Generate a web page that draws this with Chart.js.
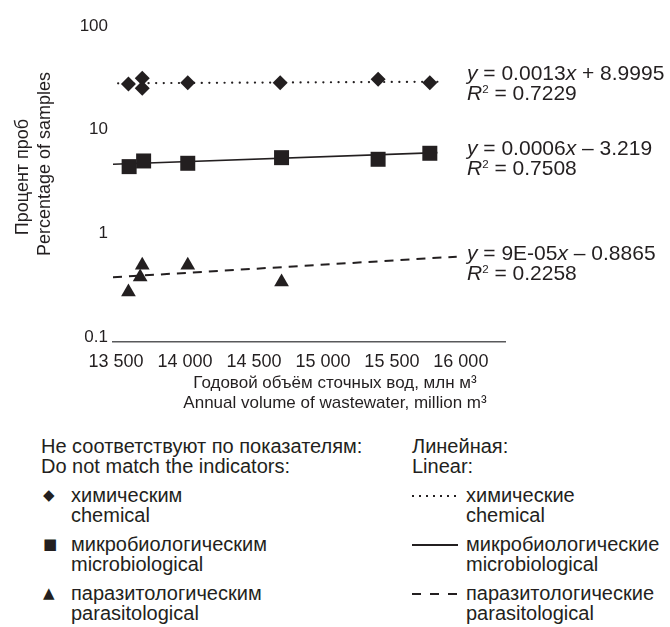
<!DOCTYPE html>
<html>
<head>
<meta charset="utf-8">
<script src="https://cdn.jsdelivr.net/npm/chart.js@4"></script>
<style>
  body { margin: 0; background: #fff; color: #231f20; font-family: "Liberation Sans", Arial, sans-serif; }
  #wrap { position: relative; width: 670px; height: 627px; overflow: hidden; }
  #chart { position: absolute; left: 0; top: 0; }
  .ytitle { position: absolute; font-size: 18px; white-space: nowrap; transform: translate(-50%, -50%) rotate(-90deg); }
  .xtitle { position: absolute; left: 335px; font-size: 17px; line-height: 20px; white-space: nowrap; transform: translateX(-50%); }
  .eq { position: absolute; left: 467px; font-size: 21px; line-height: 20px; white-space: nowrap; }
  .eq sup { font-size: 0.55em; vertical-align: 0.6em; line-height: 0; }
  .leg { position: absolute; font-size: 20px; line-height: 20px; white-space: nowrap; }
  .row { position: absolute; left: 0; }
  .txt { position: absolute; }
  .mk { position: absolute; font-family: "DejaVu Sans", sans-serif; font-size: 15px; line-height: 20px; }
  .ln { position: absolute; height: 2px; top: 10px; width: 46px; }
  .dot { background: repeating-linear-gradient(to right, #231f20 0 2px, transparent 2px 7px); }
  .solid { background: #231f20; height: 1.5px; }
  .dash { background: repeating-linear-gradient(to right, #231f20 0 9px, transparent 9px 18px); }
</style>
</head>
<body>
<div id="wrap">
  <canvas id="chart" width="670" height="430"></canvas>
  <div class="ytitle" style="left:22px; top:177px">Процент проб</div>
  <div class="ytitle" style="left:44px; top:164px">Percentage of samples</div>
  <div class="xtitle" style="top:373px">Годовой объём сточных вод, млн м³</div>
  <div class="xtitle" style="top:393px">Annual volume of wastewater, million m³</div>

  <div class="eq" style="top:63px"><i>y</i> = 0.0013<i>x</i> + 8.9995<br><i>R</i><sup>2</sup> = 0.7229</div>
  <div class="eq" style="top:138px"><i>y</i> = 0.0006<i>x</i> – 3.219<br><i>R</i><sup>2</sup> = 0.7508</div>
  <div class="eq" style="top:243px"><i>y</i> = 9E-05<i>x</i> – 0.8865<br><i>R</i><sup>2</sup> = 0.2258</div>

  <div class="leg" style="left:41px; top:436px; width:360px; height:191px">
    <div class="row" style="top:0"><div class="txt" style="left:0">Не соответствуют по показателям:<br>Do not match the indicators:</div></div>
    <div class="row" style="top:49px"><span class="mk" style="left:2px">◆</span><div class="txt" style="left:30px">химическим<br>chemical</div></div>
    <div class="row" style="top:98px"><span class="mk" style="left:2px">■</span><div class="txt" style="left:30px">микробиологическим<br>microbiological</div></div>
    <div class="row" style="top:147px"><span class="mk" style="left:2px">▲</span><div class="txt" style="left:30px">паразитологическим<br>parasitological</div></div>
  </div>

  <div class="leg" style="left:412px; top:436px; width:258px; height:191px">
    <div class="row" style="top:0"><div class="txt" style="left:0">Линейная:<br>Linear:</div></div>
    <div class="row" style="top:49px"><span class="ln dot" style="left:0"></span><div class="txt" style="left:54px">химические<br>chemical</div></div>
    <div class="row" style="top:98px"><span class="ln solid" style="left:0"></span><div class="txt" style="left:54px">микробиологические<br>microbiological</div></div>
    <div class="row" style="top:147px"><span class="ln dash" style="left:0"></span><div class="txt" style="left:54px">паразитологические<br>parasitological</div></div>
  </div>
</div>

<script>
// Годовой объём сточных вод (млн м3) и процент проб
const chemX = [13590, 13690, 13690, 14020, 14690, 15400, 15775];
const chemY = [27.6, 31.3, 25.1, 28.4, 28.4, 30.6, 28.4];
const microX = [13595, 13700, 14020, 14700, 15400, 15775];
const microY = [4.40, 4.99, 4.74, 5.37, 5.18, 5.92];
const paraX = [13590, 13690, 13675, 14020, 14700];
const paraY = [0.272, 0.492, 0.380, 0.492, 0.340];

// линии тренда (концы)
const chemTrendX = [13460, 15830];
const chemTrendY = [28.0, 29.0];
const microTrendX = [13455, 15830];
const microTrendY = [4.63, 6.0];
const paraTrendX = [13478, 15970];
const paraTrendY = [0.377, 0.596];

const xTicks = [13500, 14000, 14500, 15000, 15500, 16000];
const xTickLabels = ['13 500', '14 000', '14 500', '15 000', '15 500', '16 000'];
const yTicks = [0.1, 1, 10, 100];
const yTickLabels = ['0.1', '1', '10', '100'];

const ink = '#231f20';

function toPoints(xs, ys) {
    return xs.map((x, i) => ({ x: x, y: ys[i] }));
}

function markers(xs, ys, style, radius) {
    return {
        data: toPoints(xs, ys),
        pointStyle: style,
        pointRadius: radius,
        backgroundColor: ink,
        borderColor: ink,
        borderWidth: 0,
        showLine: false
    };
}

function trend(xs, ys, dash, width) {
    return {
        data: toPoints(xs, ys),
        showLine: true,
        pointRadius: 0,
        borderColor: ink,
        borderWidth: width,
        borderDash: dash,
        borderCapStyle: dash.length && dash[0] < 1 ? 'round' : 'butt',
        fill: false
    };
}

new Chart(document.getElementById('chart'), {
    type: 'scatter',
    data: {
        datasets: [
            markers(chemX, chemY, 'rectRot', 7.5),
            markers(microX, microY, 'rect', 10.6),
            markers(paraX, paraY, 'triangle', 8.5),
            trend(chemTrendX, chemTrendY, [0.1, 7.5], 2.2),
            trend(microTrendX, microTrendY, [], 1.6),
            trend(paraTrendX, paraTrendY, [9, 7], 2)
        ]
    },
    options: {
        responsive: false,
        animation: false,
        layout: { padding: { top: 26, right: 165, left: 0, bottom: 0 } },
        plugins: {
            legend: { display: false },
            tooltip: { enabled: false }
        },
        scales: {
            x: {
                type: 'linear',
                min: 13478,
                max: 16320,
                afterBuildTicks: scale => { scale.ticks = xTicks.map(v => ({ value: v })); },
                afterFit: scale => { scale.height = 88; },
                grid: { display: false, drawTicks: false },
                border: { display: true, color: '#58595b', width: 1.5 },
                ticks: {
                    padding: 9,
                    color: ink,
                    font: { family: 'Liberation Sans', size: 18 },
                    maxRotation: 0,
                    autoSkip: false,
                    callback: (value, index) => xTickLabels[index]
                }
            },
            y: {
                type: 'logarithmic',
                min: 0.0895,
                max: 100,
                afterBuildTicks: scale => { scale.ticks = yTicks.map(v => ({ value: v })); },
                afterFit: scale => { scale.width = 113; },
                grid: { display: false, drawTicks: false },
                border: { display: false },
                ticks: {
                    padding: 5,
                    color: ink,
                    font: { family: 'Liberation Sans', size: 17 },
                    autoSkip: false,
                    callback: (value, index) => yTickLabels[index]
                }
            }
        }
    }
});
</script>
</body>
</html>
